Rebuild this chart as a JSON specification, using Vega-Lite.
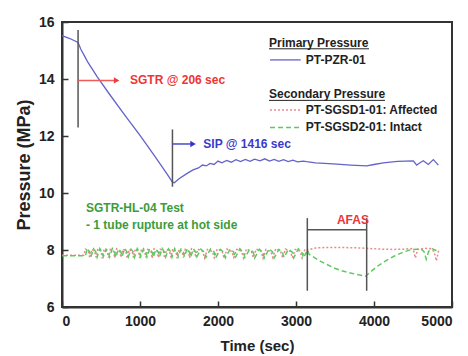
{
  "$schema": "https://vega.github.io/schema/vega-lite/v6.json",
  "width": 390,
  "height": 285,
  "autosize": "none",
  "padding": {"left": 62, "top": 22, "right": 16, "bottom": 49},
  "background": "white",
  "config": {
    "font": "Liberation Sans",
    "view": {"stroke": "#333333", "strokeWidth": 2},
    "axis": {
      "grid": false,
      "domainColor": "#333333",
      "domainWidth": 2,
      "tickColor": "#333333",
      "tickWidth": 1.5,
      "labelFont": "Liberation Sans",
      "labelFontWeight": "bold",
      "labelFontSize": 14,
      "labelColor": "#222222",
      "titleFont": "Liberation Sans",
      "titleFontWeight": "bold",
      "titleColor": "#222222"
    }
  },
  "datasets": {
    "primary": [
      {"t": 0, "p": 15.52}, {"t": 100, "p": 15.42}, {"t": 206, "p": 15.28}, {"t": 240, "p": 15.05},
      {"t": 300, "p": 14.75}, {"t": 333, "p": 14.58}, {"t": 450, "p": 14.08}, {"t": 600, "p": 13.5},
      {"t": 800, "p": 12.75}, {"t": 1000, "p": 12.02}, {"t": 1200, "p": 11.25}, {"t": 1350, "p": 10.65},
      {"t": 1416, "p": 10.38}, {"t": 1440, "p": 10.36}, {"t": 1500, "p": 10.5}, {"t": 1600, "p": 10.68},
      {"t": 1680, "p": 10.81}, {"t": 1750, "p": 10.88}, {"t": 1800, "p": 10.98}, {"t": 1850, "p": 10.95},
      {"t": 1897, "p": 11.04}, {"t": 1950, "p": 11.0}, {"t": 2000, "p": 11.12}, {"t": 2050, "p": 11.06},
      {"t": 2111, "p": 11.14}, {"t": 2170, "p": 11.08}, {"t": 2230, "p": 11.17}, {"t": 2290, "p": 11.1},
      {"t": 2350, "p": 11.18}, {"t": 2410, "p": 11.11}, {"t": 2470, "p": 11.19}, {"t": 2538, "p": 11.13},
      {"t": 2600, "p": 11.2}, {"t": 2660, "p": 11.12}, {"t": 2720, "p": 11.18}, {"t": 2780, "p": 11.11},
      {"t": 2840, "p": 11.17}, {"t": 2900, "p": 11.1}, {"t": 2960, "p": 11.15}, {"t": 3020, "p": 11.09},
      {"t": 3090, "p": 11.12}, {"t": 3137, "p": 11.1}, {"t": 3250, "p": 11.06}, {"t": 3478, "p": 11.02},
      {"t": 3700, "p": 10.98}, {"t": 3906, "p": 10.95}, {"t": 4000, "p": 11.0}, {"t": 4119, "p": 11.06},
      {"t": 4300, "p": 11.11}, {"t": 4504, "p": 11.13}, {"t": 4547, "p": 10.98}, {"t": 4590, "p": 11.06},
      {"t": 4632, "p": 11.13}, {"t": 4696, "p": 11.0}, {"t": 4761, "p": 11.17}, {"t": 4825, "p": 10.98}
    ],
    "secondary": [
      {"s": "Affected", "t": 0, "p": 7.82}, {"s": "Affected", "t": 280, "p": 7.82},
      {"s": "Affected", "t": 300, "p": 8.03}, {"s": "Affected", "t": 340, "p": 7.96}, {"s": "Affected", "t": 356, "p": 7.72},
      {"s": "Affected", "t": 380, "p": 8.02}, {"s": "Affected", "t": 420, "p": 7.95}, {"s": "Affected", "t": 436, "p": 7.74},
      {"s": "Affected", "t": 460, "p": 8.04}, {"s": "Affected", "t": 500, "p": 7.96}, {"s": "Affected", "t": 516, "p": 7.71},
      {"s": "Affected", "t": 540, "p": 8.03}, {"s": "Affected", "t": 580, "p": 7.95}, {"s": "Affected", "t": 596, "p": 7.73},
      {"s": "Affected", "t": 620, "p": 8.02}, {"s": "Affected", "t": 660, "p": 7.96}, {"s": "Affected", "t": 676, "p": 7.72},
      {"s": "Affected", "t": 700, "p": 8.04}, {"s": "Affected", "t": 740, "p": 7.95}, {"s": "Affected", "t": 756, "p": 7.74},
      {"s": "Affected", "t": 780, "p": 8.03}, {"s": "Affected", "t": 820, "p": 7.96}, {"s": "Affected", "t": 836, "p": 7.71},
      {"s": "Affected", "t": 860, "p": 8.02}, {"s": "Affected", "t": 900, "p": 7.95}, {"s": "Affected", "t": 916, "p": 7.73},
      {"s": "Affected", "t": 940, "p": 8.04}, {"s": "Affected", "t": 980, "p": 7.96}, {"s": "Affected", "t": 996, "p": 7.72},
      {"s": "Affected", "t": 1020, "p": 8.03}, {"s": "Affected", "t": 1060, "p": 7.95}, {"s": "Affected", "t": 1076, "p": 7.74},
      {"s": "Affected", "t": 1100, "p": 8.02}, {"s": "Affected", "t": 1140, "p": 7.96}, {"s": "Affected", "t": 1156, "p": 7.71},
      {"s": "Affected", "t": 1180, "p": 8.04}, {"s": "Affected", "t": 1220, "p": 7.95}, {"s": "Affected", "t": 1236, "p": 7.73},
      {"s": "Affected", "t": 1260, "p": 8.03}, {"s": "Affected", "t": 1300, "p": 7.96}, {"s": "Affected", "t": 1316, "p": 7.72},
      {"s": "Affected", "t": 1340, "p": 8.02}, {"s": "Affected", "t": 1380, "p": 7.95}, {"s": "Affected", "t": 1396, "p": 7.74},
      {"s": "Affected", "t": 1420, "p": 8.04}, {"s": "Affected", "t": 1460, "p": 7.96}, {"s": "Affected", "t": 1476, "p": 7.71},
      {"s": "Affected", "t": 1500, "p": 8.03}, {"s": "Affected", "t": 1540, "p": 7.95}, {"s": "Affected", "t": 1556, "p": 7.73},
      {"s": "Affected", "t": 1580, "p": 8.02}, {"s": "Affected", "t": 1620, "p": 7.96}, {"s": "Affected", "t": 1636, "p": 7.72},
      {"s": "Affected", "t": 1660, "p": 8.04}, {"s": "Affected", "t": 1700, "p": 7.95}, {"s": "Affected", "t": 1716, "p": 7.74},
      {"s": "Affected", "t": 1740, "p": 8.03}, {"s": "Affected", "t": 1802, "p": 7.96}, {"s": "Affected", "t": 1828, "p": 7.72},
      {"s": "Affected", "t": 1865, "p": 8.02}, {"s": "Affected", "t": 1927, "p": 7.95}, {"s": "Affected", "t": 1953, "p": 7.73},
      {"s": "Affected", "t": 1990, "p": 8.04}, {"s": "Affected", "t": 2052, "p": 7.96}, {"s": "Affected", "t": 2078, "p": 7.71},
      {"s": "Affected", "t": 2115, "p": 8.03}, {"s": "Affected", "t": 2177, "p": 7.95}, {"s": "Affected", "t": 2203, "p": 7.74},
      {"s": "Affected", "t": 2240, "p": 8.02}, {"s": "Affected", "t": 2302, "p": 7.96}, {"s": "Affected", "t": 2328, "p": 7.72},
      {"s": "Affected", "t": 2365, "p": 8.04}, {"s": "Affected", "t": 2427, "p": 7.95}, {"s": "Affected", "t": 2453, "p": 7.73},
      {"s": "Affected", "t": 2490, "p": 8.03}, {"s": "Affected", "t": 2552, "p": 7.96}, {"s": "Affected", "t": 2578, "p": 7.71},
      {"s": "Affected", "t": 2615, "p": 8.02}, {"s": "Affected", "t": 2677, "p": 7.95}, {"s": "Affected", "t": 2703, "p": 7.74},
      {"s": "Affected", "t": 2740, "p": 8.04}, {"s": "Affected", "t": 2802, "p": 7.96}, {"s": "Affected", "t": 2828, "p": 7.72},
      {"s": "Affected", "t": 2865, "p": 8.03}, {"s": "Affected", "t": 2927, "p": 7.95}, {"s": "Affected", "t": 2953, "p": 7.73},
      {"s": "Affected", "t": 2990, "p": 8.02}, {"s": "Affected", "t": 3052, "p": 7.96}, {"s": "Affected", "t": 3078, "p": 7.72},
      {"s": "Affected", "t": 3115, "p": 8.03}, {"s": "Affected", "t": 3150, "p": 8.0},
      {"s": "Affected", "t": 3250, "p": 8.07}, {"s": "Affected", "t": 3400, "p": 8.09}, {"s": "Affected", "t": 3550, "p": 8.09},
      {"s": "Affected", "t": 3700, "p": 8.08}, {"s": "Affected", "t": 3850, "p": 8.07}, {"s": "Affected", "t": 3950, "p": 8.05},
      {"s": "Affected", "t": 4100, "p": 8.03}, {"s": "Affected", "t": 4250, "p": 8.02}, {"s": "Affected", "t": 4400, "p": 8.03},
      {"s": "Affected", "t": 4480, "p": 8.05}, {"s": "Affected", "t": 4510, "p": 7.95}, {"s": "Affected", "t": 4530, "p": 7.72},
      {"s": "Affected", "t": 4560, "p": 8.02}, {"s": "Affected", "t": 4650, "p": 8.06}, {"s": "Affected", "t": 4720, "p": 8.05},
      {"s": "Affected", "t": 4770, "p": 7.95}, {"s": "Affected", "t": 4800, "p": 7.62}, {"s": "Affected", "t": 4830, "p": 8.0},
      {"s": "Intact", "t": 0, "p": 7.8}, {"s": "Intact", "t": 300, "p": 7.8},
      {"s": "Intact", "t": 325, "p": 8.05}, {"s": "Intact", "t": 355, "p": 7.92}, {"s": "Intact", "t": 370, "p": 7.76},
      {"s": "Intact", "t": 405, "p": 8.04}, {"s": "Intact", "t": 435, "p": 7.93}, {"s": "Intact", "t": 450, "p": 7.75},
      {"s": "Intact", "t": 485, "p": 8.05}, {"s": "Intact", "t": 515, "p": 7.92}, {"s": "Intact", "t": 530, "p": 7.77},
      {"s": "Intact", "t": 565, "p": 8.03}, {"s": "Intact", "t": 595, "p": 7.93}, {"s": "Intact", "t": 610, "p": 7.76},
      {"s": "Intact", "t": 645, "p": 8.05}, {"s": "Intact", "t": 675, "p": 7.92}, {"s": "Intact", "t": 690, "p": 7.75},
      {"s": "Intact", "t": 725, "p": 8.04}, {"s": "Intact", "t": 755, "p": 7.93}, {"s": "Intact", "t": 770, "p": 7.77},
      {"s": "Intact", "t": 805, "p": 8.05}, {"s": "Intact", "t": 835, "p": 7.92}, {"s": "Intact", "t": 850, "p": 7.76},
      {"s": "Intact", "t": 885, "p": 8.03}, {"s": "Intact", "t": 915, "p": 7.93}, {"s": "Intact", "t": 930, "p": 7.75},
      {"s": "Intact", "t": 965, "p": 8.05}, {"s": "Intact", "t": 995, "p": 7.92}, {"s": "Intact", "t": 1010, "p": 7.77},
      {"s": "Intact", "t": 1045, "p": 8.04}, {"s": "Intact", "t": 1075, "p": 7.93}, {"s": "Intact", "t": 1090, "p": 7.76},
      {"s": "Intact", "t": 1125, "p": 8.05}, {"s": "Intact", "t": 1155, "p": 7.92}, {"s": "Intact", "t": 1170, "p": 7.75},
      {"s": "Intact", "t": 1205, "p": 8.03}, {"s": "Intact", "t": 1235, "p": 7.93}, {"s": "Intact", "t": 1250, "p": 7.77},
      {"s": "Intact", "t": 1285, "p": 8.05}, {"s": "Intact", "t": 1315, "p": 7.92}, {"s": "Intact", "t": 1330, "p": 7.76},
      {"s": "Intact", "t": 1365, "p": 8.04}, {"s": "Intact", "t": 1395, "p": 7.93}, {"s": "Intact", "t": 1410, "p": 7.75},
      {"s": "Intact", "t": 1445, "p": 8.05}, {"s": "Intact", "t": 1475, "p": 7.92}, {"s": "Intact", "t": 1490, "p": 7.77},
      {"s": "Intact", "t": 1525, "p": 8.03}, {"s": "Intact", "t": 1555, "p": 7.93}, {"s": "Intact", "t": 1570, "p": 7.76},
      {"s": "Intact", "t": 1605, "p": 8.05}, {"s": "Intact", "t": 1635, "p": 7.92}, {"s": "Intact", "t": 1650, "p": 7.75},
      {"s": "Intact", "t": 1685, "p": 8.04}, {"s": "Intact", "t": 1715, "p": 7.93}, {"s": "Intact", "t": 1730, "p": 7.77},
      {"s": "Intact", "t": 1780, "p": 8.03}, {"s": "Intact", "t": 1825, "p": 7.92}, {"s": "Intact", "t": 1845, "p": 7.74},
      {"s": "Intact", "t": 1905, "p": 8.04}, {"s": "Intact", "t": 1950, "p": 7.93}, {"s": "Intact", "t": 1970, "p": 7.72},
      {"s": "Intact", "t": 2030, "p": 8.02}, {"s": "Intact", "t": 2075, "p": 7.92}, {"s": "Intact", "t": 2095, "p": 7.73},
      {"s": "Intact", "t": 2155, "p": 8.03}, {"s": "Intact", "t": 2200, "p": 7.93}, {"s": "Intact", "t": 2220, "p": 7.72},
      {"s": "Intact", "t": 2280, "p": 8.04}, {"s": "Intact", "t": 2325, "p": 7.92}, {"s": "Intact", "t": 2345, "p": 7.74},
      {"s": "Intact", "t": 2405, "p": 8.02}, {"s": "Intact", "t": 2450, "p": 7.93}, {"s": "Intact", "t": 2470, "p": 7.72},
      {"s": "Intact", "t": 2530, "p": 8.03}, {"s": "Intact", "t": 2575, "p": 7.92}, {"s": "Intact", "t": 2595, "p": 7.73},
      {"s": "Intact", "t": 2655, "p": 8.04}, {"s": "Intact", "t": 2700, "p": 7.93}, {"s": "Intact", "t": 2720, "p": 7.72},
      {"s": "Intact", "t": 2780, "p": 8.02}, {"s": "Intact", "t": 2825, "p": 7.92}, {"s": "Intact", "t": 2845, "p": 7.74},
      {"s": "Intact", "t": 2905, "p": 8.03}, {"s": "Intact", "t": 2950, "p": 7.93}, {"s": "Intact", "t": 2970, "p": 7.72},
      {"s": "Intact", "t": 3030, "p": 8.04}, {"s": "Intact", "t": 3075, "p": 7.92}, {"s": "Intact", "t": 3095, "p": 7.73},
      {"s": "Intact", "t": 3150, "p": 8.0}, {"s": "Intact", "t": 3167, "p": 7.85}, {"s": "Intact", "t": 3316, "p": 7.6},
      {"s": "Intact", "t": 3487, "p": 7.37}, {"s": "Intact", "t": 3600, "p": 7.26}, {"s": "Intact", "t": 3701, "p": 7.19},
      {"s": "Intact", "t": 3800, "p": 7.13}, {"s": "Intact", "t": 3894, "p": 7.08}, {"s": "Intact", "t": 3920, "p": 7.15},
      {"s": "Intact", "t": 4043, "p": 7.43}, {"s": "Intact", "t": 4150, "p": 7.62}, {"s": "Intact", "t": 4256, "p": 7.78},
      {"s": "Intact", "t": 4370, "p": 7.92}, {"s": "Intact", "t": 4470, "p": 8.01}, {"s": "Intact", "t": 4550, "p": 8.03},
      {"s": "Intact", "t": 4600, "p": 8.04}, {"s": "Intact", "t": 4640, "p": 7.95}, {"s": "Intact", "t": 4670, "p": 7.68},
      {"s": "Intact", "t": 4700, "p": 7.95}, {"s": "Intact", "t": 4740, "p": 8.05}, {"s": "Intact", "t": 4800, "p": 7.98},
      {"s": "Intact", "t": 4830, "p": 8.02}
    ]
  },
  "layer": [
    {
      "data": {"name": "primary"},
      "mark": {"type": "line", "color": "#6363c9", "strokeWidth": 1.3},
      "encoding": {
        "x": {
          "field": "t", "type": "quantitative",
          "scale": {"domain": [0, 5000], "nice": false},
          "axis": {
            "title": "Time (sec)", "titleFontSize": 15, "titlePadding": 10,
            "values": [0, 500, 1000, 1500, 2000, 2500, 3000, 3500, 4000, 4500, 5000],
            "format": "d",
            "labelExpr": "datum.value % 1000 === 0 ? datum.label : ''",
            "tickSize": {"condition": {"test": "datum.value % 1000 === 0", "value": -6}, "value": -4},
            "labelPadding": 13
          }
        },
        "y": {
          "field": "p", "type": "quantitative",
          "scale": {"domain": [6, 16], "nice": false, "zero": false},
          "axis": {
            "title": "Pressure (MPa)", "titleFontSize": 18, "titlePadding": 5,
            "values": [6, 7, 8, 9, 10, 11, 12, 13, 14, 15, 16],
            "labelExpr": "datum.value % 2 === 0 ? datum.label : ''",
            "tickSize": {"condition": {"test": "datum.value % 2 === 0", "value": -6}, "value": -4},
            "labelPadding": 14
          }
        }
      }
    },
    {
      "data": {"name": "secondary"},
      "mark": {"type": "line", "strokeWidth": 1.5},
      "encoding": {
        "x": {"field": "t", "type": "quantitative"},
        "y": {"field": "p", "type": "quantitative"},
        "detail": {"field": "s"},
        "color": {"field": "s", "type": "nominal", "scale": {"domain": ["Affected", "Intact"], "range": ["#e68a8a", "#5ec95e"]}, "legend": null},
        "strokeDash": {"field": "s", "type": "nominal", "scale": {"domain": ["Affected", "Intact"], "range": [[2, 2], [5, 3]]}, "legend": null}
      }
    },
    {
      "data": {"values": [
        {"t": 206, "a": 12.3, "b": 15.72},
        {"t": 1416, "a": 10.22, "b": 12.23},
        {"t": 3145, "a": 6.57, "b": 9.12},
        {"t": 3906, "a": 6.57, "b": 9.12}
      ]},
      "mark": {"type": "rule", "color": "#555555", "strokeWidth": 1.5},
      "encoding": {
        "x": {"field": "t", "type": "quantitative"},
        "y": {"field": "a", "type": "quantitative"},
        "y2": {"field": "b"}
      }
    },
    {
      "data": {"values": [{"t": 3145, "t2": 3906, "p": 8.71}]},
      "mark": {"type": "rule", "color": "#555555", "strokeWidth": 1.5},
      "encoding": {
        "x": {"field": "t", "type": "quantitative"},
        "x2": {"field": "t2"},
        "y": {"field": "p", "type": "quantitative"}
      }
    },
    {
      "data": {"values": [{"t": 206, "t2": 680, "p": 13.95}]},
      "mark": {"type": "rule", "color": "#f05a5a", "strokeWidth": 1.5},
      "encoding": {
        "x": {"field": "t", "type": "quantitative"},
        "x2": {"field": "t2"},
        "y": {"field": "p", "type": "quantitative"}
      }
    },
    {
      "data": {"values": [{"t": 700, "p": 13.95}]},
      "mark": {"type": "point", "shape": "triangle-right", "filled": true, "color": "#f03c3c", "size": 40, "opacity": 1},
      "encoding": {
        "x": {"field": "t", "type": "quantitative"},
        "y": {"field": "p", "type": "quantitative"}
      }
    },
    {
      "data": {"values": [{"t": 1416, "t2": 1660, "p": 11.72}]},
      "mark": {"type": "rule", "color": "#4a4ad0", "strokeWidth": 1.5},
      "encoding": {
        "x": {"field": "t", "type": "quantitative"},
        "x2": {"field": "t2"},
        "y": {"field": "p", "type": "quantitative"}
      }
    },
    {
      "data": {"values": [{"t": 1680, "p": 11.72}]},
      "mark": {"type": "point", "shape": "triangle-right", "filled": true, "color": "#3333cc", "size": 40, "opacity": 1},
      "encoding": {
        "x": {"field": "t", "type": "quantitative"},
        "y": {"field": "p", "type": "quantitative"}
      }
    },
    {
      "data": {"values": [{"t": 872, "p": 13.95, "label": "SGTR @ 206 sec"}, {"t": 3525, "p": 9.04, "label": "AFAS"}]},
      "mark": {"type": "text", "color": "#ee3535", "font": "Liberation Sans", "fontWeight": "bold", "fontSize": 12, "baseline": "middle", "align": "left"},
      "encoding": {
        "x": {"field": "t", "type": "quantitative"},
        "y": {"field": "p", "type": "quantitative"},
        "text": {"field": "label"},
        "align": {"condition": {"test": "datum.label === 'AFAS'", "value": "center"}, "value": "left"}
      }
    },
    {
      "data": {"values": [{"t": 1812, "p": 11.72, "label": "SIP @ 1416 sec"}]},
      "mark": {"type": "text", "color": "#3a3acc", "font": "Liberation Sans", "fontWeight": "bold", "fontSize": 12, "baseline": "middle", "align": "left"},
      "encoding": {
        "x": {"field": "t", "type": "quantitative"},
        "y": {"field": "p", "type": "quantitative"},
        "text": {"field": "label"}
      }
    },
    {
      "data": {"values": [{"t": 308, "p": 9.47, "label": "SGTR-HL-04 Test"}, {"t": 308, "p": 8.89, "label": "- 1 tube rupture at hot side"}]},
      "mark": {"type": "text", "color": "#3c9c3c", "font": "Liberation Sans", "fontWeight": "bold", "fontSize": 12, "baseline": "middle", "align": "left"},
      "encoding": {
        "x": {"field": "t", "type": "quantitative"},
        "y": {"field": "p", "type": "quantitative"},
        "text": {"field": "label"}
      }
    },
    {
      "data": {"values": [
        {"t": 2654, "p": 15.27, "label": "Primary Pressure"},
        {"t": 3125, "p": 14.67, "label": "PT-PZR-01"},
        {"t": 2654, "p": 13.46, "label": "Secondary Pressure"},
        {"t": 3125, "p": 12.91, "label": "PT-SGSD1-01: Affected"},
        {"t": 3125, "p": 12.3, "label": "PT-SGSD2-01: Intact"}
      ]},
      "mark": {"type": "text", "color": "#222222", "font": "Liberation Sans", "fontWeight": "bold", "fontSize": 12, "baseline": "middle", "align": "left"},
      "encoding": {
        "x": {"field": "t", "type": "quantitative"},
        "y": {"field": "p", "type": "quantitative"},
        "text": {"field": "label"}
      }
    },
    {
      "data": {"values": [{"t": 2654, "t2": 3936, "p": 15.06}, {"t": 2654, "t2": 4141, "p": 13.25}]},
      "mark": {"type": "rule", "color": "#222222", "strokeWidth": 1},
      "encoding": {
        "x": {"field": "t", "type": "quantitative"},
        "x2": {"field": "t2"},
        "y": {"field": "p", "type": "quantitative"}
      }
    },
    {
      "data": {"values": [{"t": 2667, "t2": 3060, "p": 14.67}]},
      "mark": {"type": "rule", "color": "#6363c9", "strokeWidth": 1.3},
      "encoding": {
        "x": {"field": "t", "type": "quantitative"},
        "x2": {"field": "t2"},
        "y": {"field": "p", "type": "quantitative"}
      }
    },
    {
      "data": {"values": [{"s": "Affected", "t": 2667, "t2": 3060, "p": 12.91}, {"s": "Intact", "t": 2667, "t2": 3060, "p": 12.3}]},
      "mark": {"type": "rule", "strokeWidth": 1.5},
      "encoding": {
        "x": {"field": "t", "type": "quantitative"},
        "x2": {"field": "t2"},
        "y": {"field": "p", "type": "quantitative"},
        "color": {"field": "s", "type": "nominal", "legend": null},
        "strokeDash": {"field": "s", "type": "nominal", "legend": null}
      }
    }
  ]
}
